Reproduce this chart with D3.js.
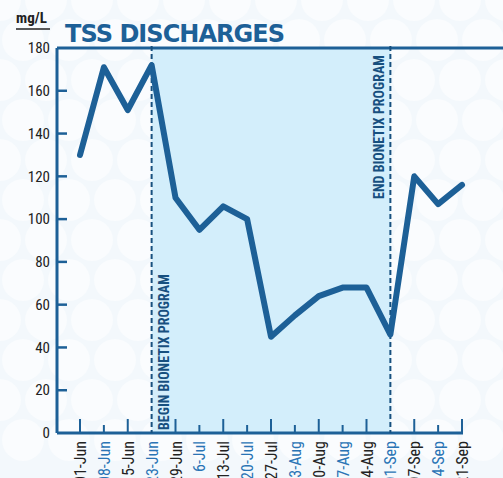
<!DOCTYPE html>
<html>
<head>
<meta charset="utf-8">
<script src="https://cdn.jsdelivr.net/npm/d3@7"></script>
<style>
  body { margin: 0; background: #f3f8fc; }
  svg { display: block; }
</style>
</head>
<body>
<div id="chart"></div>
<script>
// weekly sample dates and TSS values (mg/L)
var dates = ["01-Jun", "08-Jun", "15-Jun", "23-Jun", "29-Jun", "6-Jul", "13-Jul", "20-Jul",
             "27-Jul", "3-Aug", "10-Aug", "17-Aug", "24-Aug", "01-Sep", "07-Sep", "14-Sep", "21-Sep"];
var tss = [130, 171, 151, 172, 110, 95, 106, 100, 45, 55, 64, 68, 68, 46, 120, 107, 116];
var yTicks = [0, 20, 40, 60, 80, 100, 120, 140, 160, 180];
var programStart = "23-Jun";
var programEnd = "01-Sep";

var W = 503, H = 478;
var blue = "#1d6097";
var dark = "#222";
var font = "'Liberation Sans Narrow', 'Roboto Condensed', 'DejaVu Sans Condensed', sans-serif";

var svg = d3.select("#chart").append("svg")
    .attr("width", W)
    .attr("height", H);

// faint circle pattern in the background
var bg = svg.append("g");
for (var r = 0; r < 12; r++) {
    for (var c = 0; c < 12; c++) {
        bg.append("circle")
            .attr("cx", c * 46 + (r % 2) * 23)
            .attr("cy", r * 40)
            .attr("r", 21)
            .attr("fill", "#ffffff")
            .attr("opacity", 0.55);
    }
}

var plotLeft = 57, plotTop = 48, plotBottom = 433;

var x = d3.scalePoint()
    .domain(dates)
    .range([80, 462]);

var y = d3.scaleLinear()
    .domain([0, 180])
    .range([plotBottom, plotTop]);

// shaded program period
svg.append("rect")
    .attr("x", x(programStart))
    .attr("y", plotTop)
    .attr("width", x(programEnd) - x(programStart))
    .attr("height", plotBottom - plotTop)
    .attr("fill", "#d3eefb");

// title
svg.append("text")
    .attr("x", 65)
    .attr("y", 42)
    .attr("fill", blue)
    .style("font-family", "'DejaVu Sans', sans-serif")
    .style("font-weight", "bold")
    .style("font-size", "24px")
    .attr("textLength", 220)
    .text("TSS DISCHARGES");

// unit label
svg.append("text")
    .attr("x", 16)
    .attr("y", 23)
    .attr("fill", dark)
    .style("font-family", font)
    .style("font-weight", "bold")
    .style("font-size", "15px")
    .text("mg/L");
svg.append("line")
    .attr("x1", 16).attr("x2", 50)
    .attr("y1", 29).attr("y2", 29)
    .attr("stroke", dark)
    .attr("stroke-width", 1.5);

// frame: top line, y axis, x axis
svg.append("line")
    .attr("x1", plotLeft).attr("x2", W)
    .attr("y1", plotTop).attr("y2", plotTop)
    .attr("stroke", blue).attr("stroke-width", 3);
svg.append("line")
    .attr("x1", plotLeft).attr("x2", plotLeft)
    .attr("y1", plotTop).attr("y2", plotBottom)
    .attr("stroke", blue).attr("stroke-width", 3);
svg.append("line")
    .attr("x1", plotLeft).attr("x2", x(dates[dates.length - 1]) + 1)
    .attr("y1", plotBottom).attr("y2", plotBottom)
    .attr("stroke", blue).attr("stroke-width", 3);

// y ticks and labels
var yAxis = svg.append("g");
yTicks.forEach(function(t) {
    if (t > 0 && t < 180) {
        yAxis.append("line")
            .attr("x1", plotLeft).attr("x2", plotLeft + 10)
            .attr("y1", y(t)).attr("y2", y(t))
            .attr("stroke", blue).attr("stroke-width", 2.5);
    }
    yAxis.append("text")
        .attr("x", 50)
        .attr("y", y(t))
        .attr("dy", "0.35em")
        .attr("text-anchor", "end")
        .attr("fill", dark)
        .style("font-family", font)
        .style("font-size", "15px")
        .text(t);
});

// x ticks and labels
var xAxis = svg.append("g");
dates.forEach(function(d, i) {
    if (d != programStart && d != programEnd) {
        xAxis.append("line")
            .attr("x1", x(d)).attr("x2", x(d))
            .attr("y1", plotBottom).attr("y2", plotBottom - (i % 2 == 0 ? 14 : 8))
            .attr("stroke", blue).attr("stroke-width", 2);
    }
    xAxis.append("text")
        .attr("transform", "translate(" + (x(d) + 6) + "," + 441 + ") rotate(-90)")
        .attr("text-anchor", "end")
        .attr("fill", i % 2 == 0 ? dark : "#2a74b5")
        .style("font-family", font)
        .style("font-size", "16px")
        .text(d);
});

// program markers
[programStart, programEnd].forEach(function(d) {
    svg.append("line")
        .attr("x1", x(d)).attr("x2", x(d))
        .attr("y1", plotTop - 2).attr("y2", plotBottom)
        .attr("stroke", "#17507f")
        .attr("stroke-width", 2)
        .attr("stroke-dasharray", "5,3");
});

svg.append("text")
    .attr("transform", "translate(" + (x(programStart) + 17) + "," + 430 + ") rotate(-90)")
    .attr("fill", "#17507f")
    .style("font-family", font)
    .style("font-weight", "bold")
    .style("font-size", "14px")
    .text("BEGIN BIONETIX PROGRAM");

svg.append("text")
    .attr("transform", "translate(" + (x(programEnd) - 6) + "," + 55 + ") rotate(-90)")
    .attr("text-anchor", "end")
    .attr("fill", "#17507f")
    .style("font-family", font)
    .style("font-weight", "bold")
    .style("font-size", "14px")
    .text("END BIONETIX PROGRAM");

// data line
var line = d3.line()
    .x(function(d, i) { return x(dates[i]); })
    .y(function(d) { return y(d); });

svg.append("path")
    .datum(tss)
    .attr("d", line)
    .attr("fill", "none")
    .attr("stroke", blue)
    .attr("stroke-width", 6)
    .attr("stroke-linejoin", "round")
    .attr("stroke-linecap", "round");
</script>
</body>
</html>
